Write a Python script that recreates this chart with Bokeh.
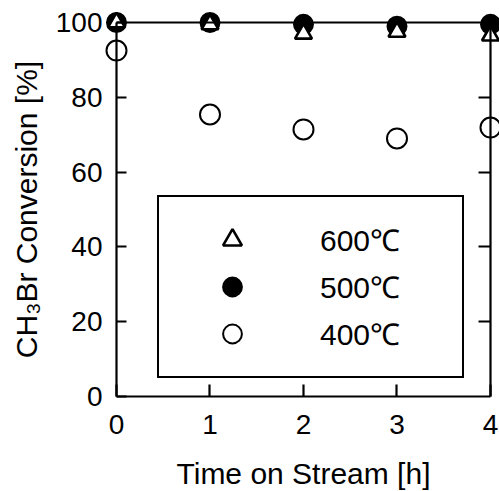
from bokeh.plotting import figure
from bokeh.models import (Range1d, LinearAxis, FixedTicker, Legend, LegendItem)
from bokeh.embed import file_html
from bokeh.resources import INLINE

# ---- data ----
time_h = [0, 1, 2, 3, 4]
conv_600 = [100, 99.5, 97, 97.5, 96.5]
conv_500 = [100, 100, 99.5, 99, 99.5]
conv_400 = [92.5, 75.4, 71.4, 69, 71.9]
series_labels = ["600\u2103", "500\u2103", "400\u2103"]
x_ticks = [0, 1, 2, 3, 4]
y_ticks = [0, 20, 40, 60, 80, 100]
y_inner_ticks = [20, 40, 60, 80]

FONT = "Liberation Sans"

p = figure(width=499, height=491, output_backend="svg", toolbar_location=None,
           x_range=Range1d(-1.2406, 4.0963), y_range=Range1d(-25.4, 105.88),
           min_border_left=0, min_border_right=0, min_border_top=0, min_border_bottom=0,
           x_axis_location=None, y_axis_location=None)
p.outline_line_color = None
p.xgrid.visible = False
p.ygrid.visible = False
p.background_fill_color = "white"
p.border_fill_color = "white"

def style(ax):
    ax.axis_line_color = "black"
    ax.axis_line_width = 2.2
    ax.major_tick_line_color = "black"
    ax.major_tick_line_width = 2.2
    ax.minor_tick_line_color = None
    ax.major_label_text_font = FONT
    ax.major_label_text_font_size = "28px"
    ax.major_label_text_color = "black"
    ax.axis_label_text_font = FONT
    ax.axis_label_text_font_size = "30px"
    ax.axis_label_text_font_style = "normal"
    ax.axis_label_text_color = "black"

# left axis
ly = LinearAxis(fixed_location=0, bounds=(0, 100), ticker=FixedTicker(ticks=y_ticks),
                axis_label="CH\u2083Br Conversion [%]")
style(ly)
ly.major_tick_in = 10
ly.major_tick_out = 0
ly.major_label_standoff = 14
ly.axis_label_standoff = 10
p.add_layout(ly, "left")

# bottom axis
bx = LinearAxis(fixed_location=0, bounds=(0, 4), ticker=FixedTicker(ticks=x_ticks),
                axis_label="Time on Stream [h]")
style(bx)
bx.major_tick_in = 12
bx.major_tick_out = 0
bx.major_label_standoff = 18
bx.axis_label_standoff = 20
p.add_layout(bx, "below")

# right axis (ticks only)
ry = LinearAxis(fixed_location=4, bounds=(0, 100), ticker=FixedTicker(ticks=y_inner_ticks),
                major_label_overrides={t: "" for t in y_inner_ticks})
style(ry)
ry.major_tick_in = 12
ry.major_tick_out = 0
p.add_layout(ry, "right")

# top axis (line only)
tx = LinearAxis(fixed_location=100, bounds=(0, 4), ticker=FixedTicker(ticks=[]))
style(tx)
tx.major_tick_in = 0
tx.major_tick_out = 0
p.add_layout(tx, "above")

r400 = p.scatter(time_h, conv_400, marker="circle", size=20, fill_color="white",
                 line_color="black", line_width=2)
r500 = p.scatter(time_h, conv_500, marker="circle", size=19, fill_color="black",
                 line_color="black", line_width=2)
r600 = p.scatter(time_h, conv_600, marker="triangle", size=17, fill_color="white",
                 line_color="black", line_width=2.6)

legend = Legend(items=[LegendItem(label=series_labels[0], renderers=[r600]),
                       LegendItem(label=series_labels[1], renderers=[r500]),
                       LegendItem(label=series_labels[2], renderers=[r400])],
                location=(157, 113))
legend.margin = 0
legend.padding = 19
legend.spacing = 0
legend.glyph_width = 108
legend.glyph_height = 47
legend.label_standoff = 34
legend.label_width = 123
legend.label_text_font = FONT
legend.label_text_font_size = "30px"
legend.label_text_color = "black"
legend.border_line_color = "black"
legend.border_line_alpha = 1
legend.border_line_width = 2
legend.background_fill_color = "white"
legend.background_fill_alpha = 1
p.add_layout(legend, "center")

open("out.html", "w").write(file_html(p, INLINE))
